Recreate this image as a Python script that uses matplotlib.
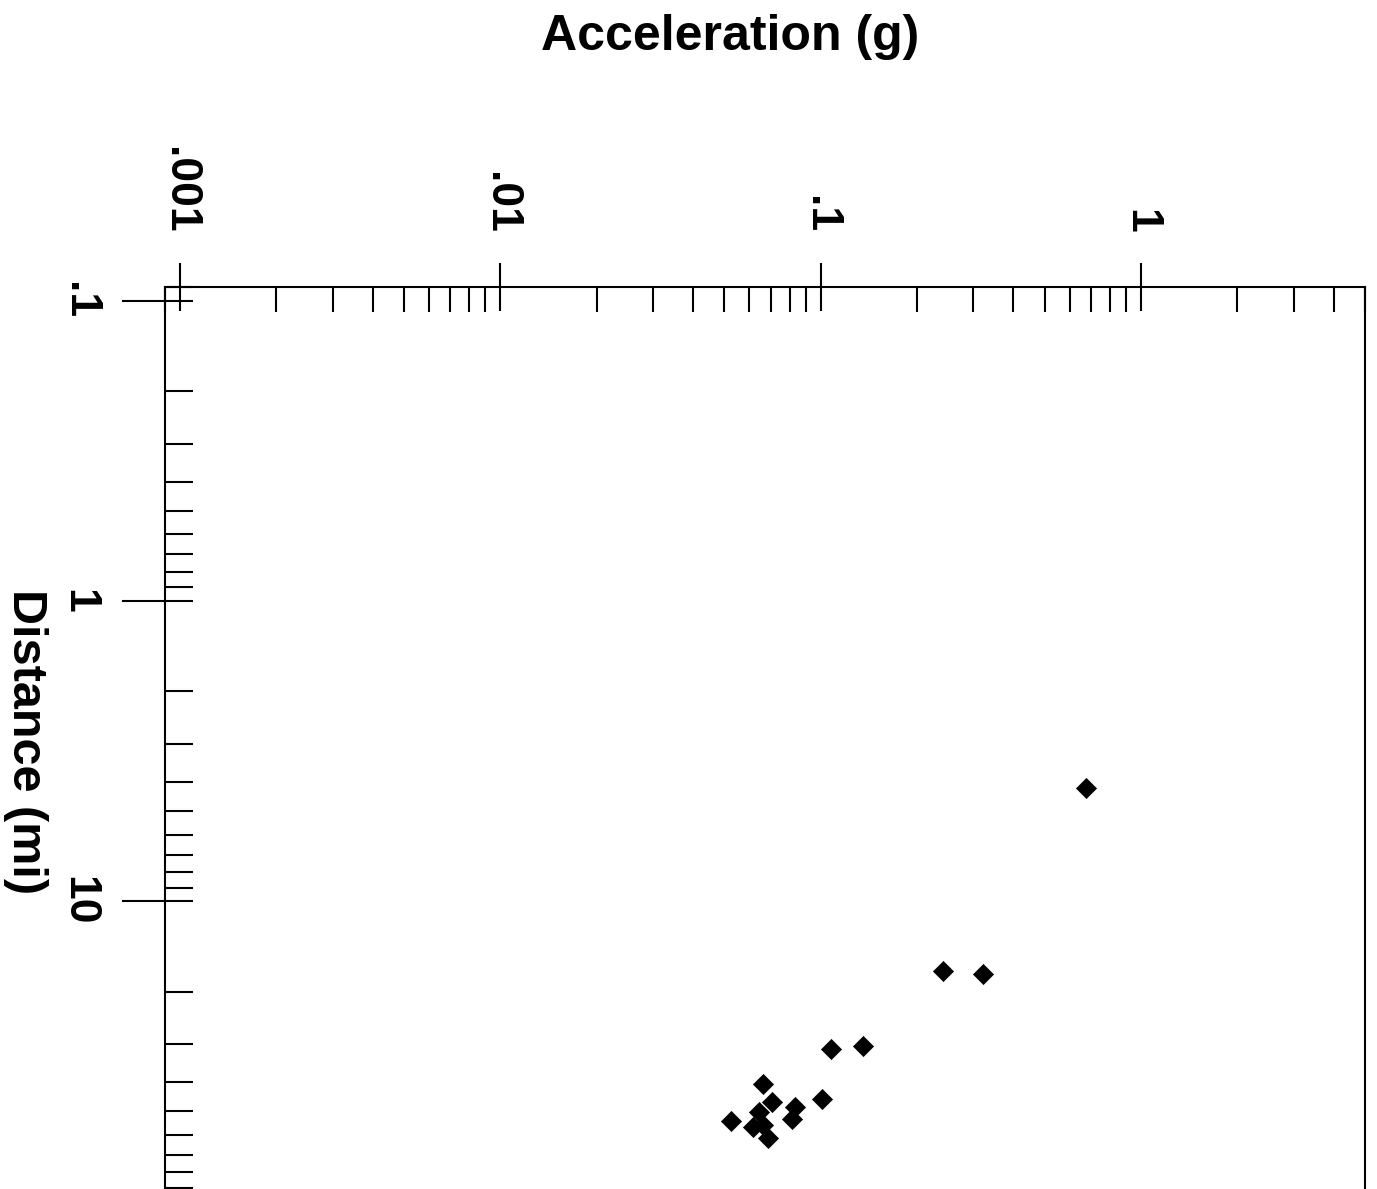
import matplotlib.pyplot as plt
from matplotlib.ticker import FixedLocator, NullLocator, LogLocator

# datos
acceleration = [0.673, 0.241, 0.321, 0.108, 0.136, 0.0662, 0.101, 0.0526,
                0.0706, 0.0644, 0.0834, 0.0815, 0.0617, 0.0687, 0.0662]
distance = [4.21, 17.1, 17.5, 31.1, 30.4, 40.6, 45.6, 54.0,
            46.7, 50.4, 48.5, 53.1, 56.5, 61.5, 55.6]

acc_ticks = [0.001, 0.01, 0.1, 1]
acc_labels = ['.001', '.01', '.1', '1']
dist_ticks = [0.1, 1, 10]
dist_labels = ['.1', '1', '10']

plt.rcParams['font.family'] = ['Liberation Sans', 'DejaVu Sans']
plt.rcParams['font.weight'] = 'bold'

fig = plt.figure(figsize=(13.77, 11.89), dpi=100)
ax = fig.add_axes([0.1198, -0.0105, 0.8715, 0.7691])

ax.scatter(acceleration, distance, marker='D', s=105, color='black',
           edgecolor='black', linewidth=0.5, zorder=3, clip_on=False)

ax.set_xscale('log')
ax.set_yscale('log')
ax.set_xlim(0.0009, 5)
ax.set_ylim(100, 0.09)

for s in ax.spines.values():
    s.set_linewidth(1.5)

# eje superior (aceleracion)
ax.xaxis.tick_top()
ax.xaxis.set_major_locator(FixedLocator(acc_ticks))
ax.xaxis.set_minor_locator(LogLocator(base=10, subs=range(2, 10)))
ax.set_xticklabels(acc_labels)
ax.tick_params(axis='x', which='major', direction='inout', length=35,
               width=1.5, pad=21, labelsize=32)
ax.tick_params(axis='x', which='minor', direction='in', length=18,
               width=1.5, labeltop=False)
for t in ax.get_xticklabels():
    t.set_rotation(-90)
    t.set_ha('center')
    t.set_va('bottom')
    t.set_fontweight('bold')

# eje izquierdo (distancia)
ax.yaxis.set_major_locator(FixedLocator(dist_ticks))
ax.yaxis.set_minor_locator(LogLocator(base=10, subs=range(2, 10)))
ax.set_yticklabels(dist_labels)
ax.tick_params(axis='y', which='major', direction='in', length=20,
               width=1.5, pad=47, labelsize=32)
ax.tick_params(axis='y', which='minor', direction='in', length=20,
               width=1.5, labelleft=False)
for t in ax.get_yticklabels():
    t.set_rotation(-90)
    t.set_ha('right')
    t.set_va('center')
    t.set_fontweight('bold')

# parte exterior de los ticks mayores de la izquierda
sec = ax.secondary_yaxis('left')
sec.yaxis.set_major_locator(FixedLocator(dist_ticks))
sec.yaxis.set_minor_locator(NullLocator())
sec.tick_params(axis='y', which='major', direction='out', length=31,
                width=1.5, labelleft=False)
sec.spines['left'].set_visible(False)

fig.text(730 / 1377, 1 - 50 / 1189, 'Acceleration (g)', ha='center',
         va='baseline', fontsize=36, fontweight='bold')
fig.text(25 / 1377, 1 - 742 / 1189, 'Distance (mi)', ha='center',
         va='center', rotation=-90, fontsize=35, fontweight='bold')

fig.savefig('out.png', dpi=100)
